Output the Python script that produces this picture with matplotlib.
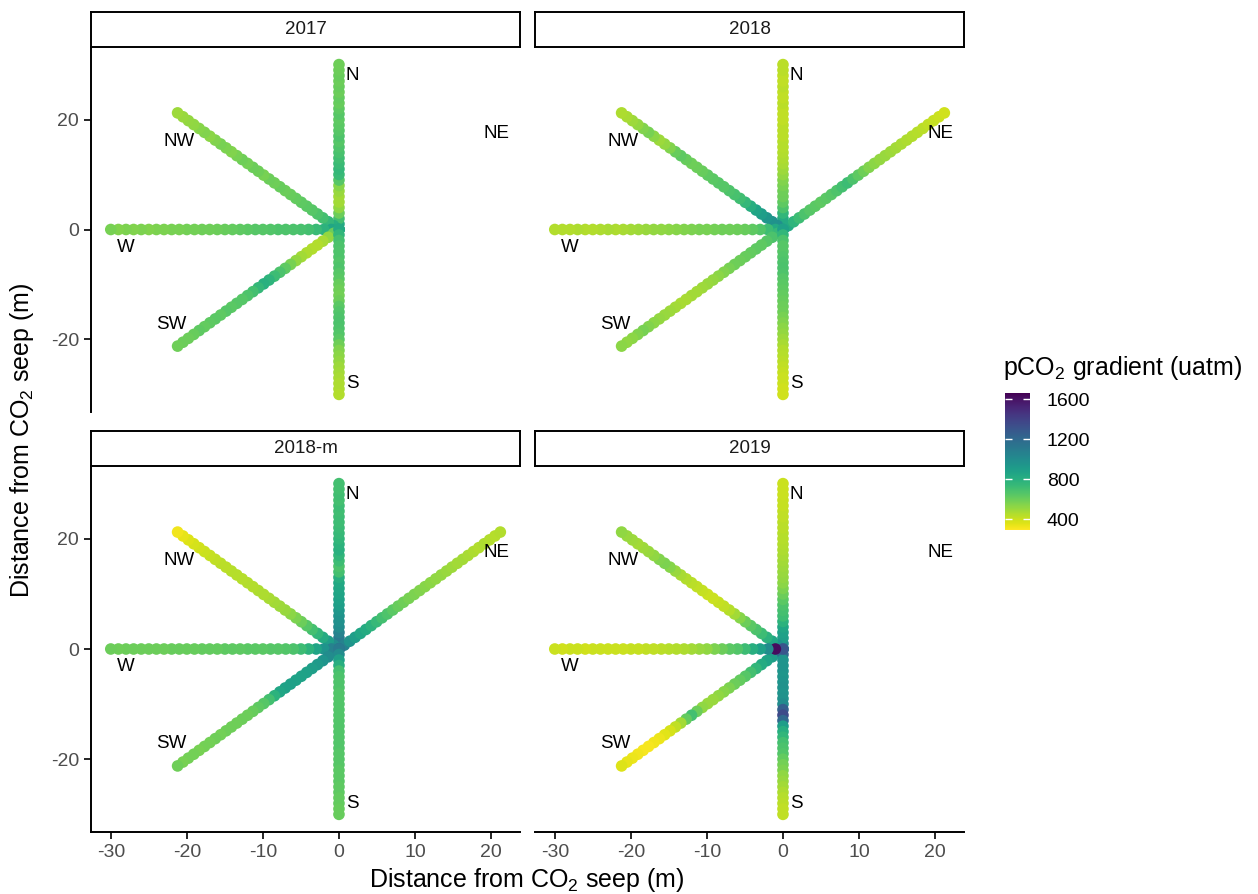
import numpy as np
import matplotlib
matplotlib.use("Agg")
import matplotlib.pyplot as plt
from matplotlib.colors import Normalize

plt.rcParams["font.family"] = ["Liberation Sans", "DejaVu Sans"]
plt.rcParams["mathtext.fontset"] = "custom"
plt.rcParams["mathtext.rm"] = "Liberation Sans"
plt.rcParams["mathtext.it"] = "Liberation Sans:italic"
plt.rcParams["axes.unicode_minus"] = False

# sampling distance along each transect (m from seep)
dist_m = list(range(0, 31))

# compass bearing of each transect (deg)
bearing = {"N": 0, "NE": 45, "W": 270, "NW": 315, "SW": 225, "S": 180}

# pCO2 (uatm) read along each transect, from the seep outwards
n_2017 = [930, 820, 700, 600, 520, 480, 480, 500, 540, 650, 730, 750, 730, 710, 690, 670,
          650, 670, 650, 640, 630, 650, 630, 610, 620, 600, 610, 600, 610, 600, 590]
nw_2017 = [880, 800, 750, 700, 670, 650, 640, 630, 620, 610, 600, 610, 590, 600, 570, 590,
           600, 580, 590, 570, 550, 560, 570, 550, 530, 550, 540, 520, 510, 500, 490]
w_2017 = [930, 850, 780, 730, 700, 690, 680, 670, 670, 660, 650, 650, 640, 630, 620, 610,
          600, 590, 590, 580, 580, 570, 570, 560, 560, 550, 560, 550, 560, 550, 570]
sw_2017 = [780, 600, 510, 470, 450, 450, 460, 480, 510, 570, 630, 680, 720, 770, 790, 750,
           700, 670, 650, 650, 640, 650, 630, 640, 630, 620, 630, 610, 600, 600, 590]
s_2017 = [830, 760, 700, 680, 670, 670, 660, 670, 650, 640, 610, 590, 580, 600, 640, 660,
          670, 680, 670, 660, 640, 590, 550, 530, 510, 490, 480, 470, 460, 460, 450]

n_2018 = [950, 880, 820, 760, 680, 630, 600, 590, 570, 550, 510, 490, 470, 460, 450, 440,
          440, 430, 430, 430, 420, 420, 420, 430, 420, 420, 430, 420, 420, 430, 430]
nw_2018 = [1000, 980, 960, 940, 900, 860, 800, 750, 710, 690, 670, 650, 650, 640, 630, 610,
           600, 590, 610, 630, 610, 550, 510, 490, 530, 570, 550, 510, 490, 470, 460]
ne_2018 = [900, 830, 770, 720, 680, 650, 640, 630, 640, 650, 670, 700, 720, 680, 630, 590,
           550, 530, 510, 500, 490, 480, 470, 460, 450, 440, 430, 420, 410, 400, 390]
w_2018 = [950, 830, 720, 660, 630, 610, 600, 590, 590, 580, 570, 570, 560, 550, 540, 530,
          520, 510, 500, 490, 480, 470, 460, 470, 460, 450, 450, 460, 450, 450, 450]
sw_2018 = [830, 740, 680, 650, 630, 630, 620, 610, 600, 590, 570, 550, 530, 510, 500, 490,
           480, 480, 470, 470, 480, 490, 500, 510, 530, 550, 570, 550, 530, 520, 530]
s_2018 = [880, 760, 680, 650, 650, 660, 670, 680, 670, 650, 640, 630, 620, 610, 600, 590,
          570, 550, 530, 510, 490, 470, 450, 440, 430, 420, 410, 400, 400, 390, 390]

n_2018m = [1200, 1150, 1100, 1050, 1000, 980, 960, 940, 900, 880, 860, 850, 840, 800, 700, 680,
           720, 760, 790, 780, 760, 740, 730, 720, 720, 710, 720, 700, 710, 700, 700]
nw_2018m = [1100, 1000, 900, 820, 760, 700, 650, 600, 560, 530, 500, 490, 480, 470, 460, 460,
            450, 450, 440, 440, 440, 430, 430, 420, 410, 400, 390, 380, 360, 340, 320]
ne_2018m = [1150, 1050, 950, 900, 850, 820, 780, 740, 700, 670, 640, 610, 590, 570, 560, 550,
            540, 530, 520, 510, 500, 490, 480, 480, 470, 460, 450, 460, 450, 440, 450]
w_2018m = [1150, 1050, 950, 860, 780, 720, 680, 660, 650, 650, 640, 640, 640, 630, 630, 630,
           620, 620, 620, 610, 610, 610, 610, 600, 600, 600, 600, 600, 600, 590, 600]
sw_2018m = [1150, 1050, 1000, 950, 920, 900, 880, 870, 870, 880, 870, 850, 780, 700, 650, 630,
            610, 600, 600, 590, 590, 590, 580, 590, 580, 580, 570, 580, 580, 570, 590]
s_2018m = [1100, 1000, 880, 800, 700, 680, 670, 670, 660, 660, 660, 660, 660, 660, 660, 660,
           660, 660, 660, 650, 650, 650, 640, 640, 640, 630, 630, 620, 620, 610, 610]

n_2019 = [1300, 1000, 900, 880, 850, 780, 720, 700, 680, 640, 600, 560, 530, 510, 500, 490,
          480, 470, 460, 450, 440, 440, 430, 430, 420, 420, 410, 410, 400, 400, 400]
nw_2019 = [1100, 950, 850, 780, 720, 680, 640, 600, 540, 480, 440, 420, 410, 400, 400, 410,
           420, 430, 450, 470, 500, 540, 560, 550, 520, 500, 490, 480, 490, 500, 520]
w_2019 = [1300, 1620, 1000, 880, 800, 720, 660, 640, 600, 560, 520, 500, 480, 460, 450, 440,
          430, 420, 420, 410, 410, 400, 400, 400, 400, 400, 390, 400, 400, 390, 400]
sw_2019 = [1000, 950, 900, 860, 820, 760, 700, 650, 620, 600, 560, 540, 520, 500, 500, 520,
           600, 700, 620, 480, 420, 380, 350, 330, 320, 310, 310, 320, 330, 340, 360]
s_2019 = [1000, 1200, 950, 950, 950, 940, 950, 960, 950, 960, 1000, 1250, 1350, 1200, 900, 800,
          760, 700, 680, 660, 620, 580, 560, 520, 500, 480, 460, 440, 430, 420, 420]

years = ["2017", "2018", "2018-m", "2019"]
transects = {
    "2017": {"N": n_2017, "NW": nw_2017, "W": w_2017, "SW": sw_2017, "S": s_2017},
    "2018": {"N": n_2018, "NW": nw_2018, "NE": ne_2018, "W": w_2018, "SW": sw_2018, "S": s_2018},
    "2018-m": {"N": n_2018m, "NW": nw_2018m, "NE": ne_2018m, "W": w_2018m, "SW": sw_2018m, "S": s_2018m},
    "2019": {"N": n_2019, "NW": nw_2019, "SW": sw_2019, "S": s_2019, "W": w_2019},
}

# transect name labels
label_names = ["N", "NE", "NW", "W", "SW", "S"]
label_x = [1.8, 20.7, -21.0, -28.0, -22.0, 1.8]
label_y = [28.0, 17.5, 16.0, -3.2, -17.2, -28.0]

norm = Normalize(vmin=290, vmax=1660)
cmap = plt.get_cmap("viridis_r")

W, H = 1258, 894
fig = plt.figure(figsize=(W / 100, H / 100), dpi=100)

# panel boxes in pixels (left, top, right, bottom)
panel_px = [(91, 47, 520, 412), (535, 47, 964, 412),
            (91, 466, 520, 832), (535, 466, 964, 832)]
strip_h = 35
grey = "#4D4D4D"

for i, yr in enumerate(years):
    l, t, r, b = panel_px[i]
    ax = fig.add_axes([l / W, 1 - b / H, (r - l) / W, (b - t) / H])
    for name, vals in transects[yr].items():
        th = np.deg2rad(bearing[name])
        d = np.array(dist_m)
        ax.scatter(d * np.sin(th), d * np.cos(th), c=vals, cmap=cmap, norm=norm,
                   s=70, linewidths=0, zorder=2)
    for nm, lx, ly in zip(label_names, label_x, label_y):
        ax.text(lx, ly, nm, ha="center", va="center", fontsize=13.5, color="black")
    ax.set_xlim(-32.6, 23.8)
    ax.set_ylim(-33.2, 33.2)
    ax.spines["top"].set_visible(False)
    ax.spines["right"].set_visible(False)
    left_col = i % 2 == 0
    bottom_row = i >= 2
    ax.spines["left"].set_visible(left_col)
    ax.spines["bottom"].set_visible(bottom_row)
    for sp in ("left", "bottom"):
        ax.spines[sp].set_linewidth(1.4)
    ax.set_xticks([-30, -20, -10, 0, 10, 20])
    ax.set_yticks([-20, 0, 20])
    ax.tick_params(axis="x", bottom=bottom_row, labelbottom=bottom_row,
                   length=5, width=1.2, labelsize=14, labelcolor=grey, color="black")
    ax.tick_params(axis="y", left=left_col, labelleft=left_col,
                   length=5, width=1.2, labelsize=14, labelcolor=grey, color="black")
    ax.set_facecolor("none")

    # facet strip
    sax = fig.add_axes([l / W, 1 - t / H, (r - l) / W, strip_h / H])
    sax.set_xticks([])
    sax.set_yticks([])
    for sp in sax.spines.values():
        sp.set_linewidth(1.4)
    sax.text(0.5, 0.5, yr, ha="center", va="center", fontsize=13.5, color="#1A1A1A",
             transform=sax.transAxes)

fig.text(527 / W, 1 - 880 / H, "Distance from CO$_2$ seep (m)", ha="center", va="center",
         fontsize=18)
fig.text(22 / W, 1 - 440 / H, "Distance from CO$_2$ seep (m)", ha="center", va="center",
         fontsize=18, rotation=90)

# colourbar
cax = fig.add_axes([1005 / W, 1 - 530 / H, 25 / W, 137 / H])
sm = plt.cm.ScalarMappable(norm=norm, cmap=cmap)
cb = fig.colorbar(sm, cax=cax, ticks=[400, 800, 1200, 1600])
cb.outline.set_visible(False)
cax.tick_params(left=True, right=True, direction="in", color="white", length=5, width=1,
                labelsize=14, labelcolor="black", pad=12)
fig.text(1003 / W, 1 - 368 / H, "pCO$_2$ gradient (uatm)", ha="left", va="center", fontsize=18)

fig.savefig("out.png", dpi=100)
